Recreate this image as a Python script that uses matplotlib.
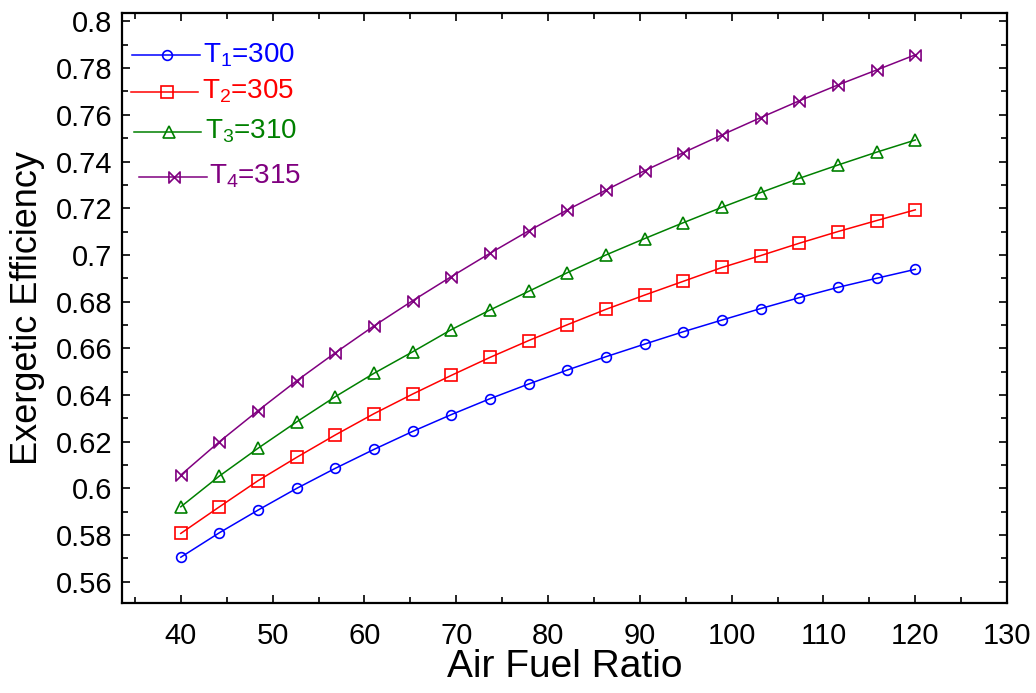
import numpy as np
import matplotlib.pyplot as plt
from matplotlib.path import Path
from matplotlib.ticker import MultipleLocator

plt.rcParams['font.family'] = ['Liberation Sans', 'DejaVu Sans']

# air fuel ratio values (20 points, 40 .. 120)
afr = [40.0, 44.21, 48.42, 52.63, 56.84, 61.05, 65.26, 69.47, 73.68, 77.89,
       82.11, 86.32, 90.53, 94.74, 98.95, 103.16, 107.37, 111.58, 115.79, 120.0]

# exergetic efficiency for each temperature
eff_300 = [0.5705, 0.5810, 0.5907, 0.6000, 0.6086, 0.6167, 0.6244, 0.6316, 0.6384, 0.6447,
           0.6507, 0.6564, 0.6618, 0.6671, 0.6721, 0.6770, 0.6817, 0.6861, 0.6900, 0.6938]
eff_305 = [0.5807, 0.5921, 0.6033, 0.6133, 0.6229, 0.6320, 0.6404, 0.6484, 0.6561, 0.6633,
           0.6701, 0.6767, 0.6828, 0.6887, 0.6946, 0.6997, 0.7050, 0.7100, 0.7147, 0.7193]
eff_310 = [0.5921, 0.6053, 0.6172, 0.6285, 0.6393, 0.6493, 0.6585, 0.6680, 0.6764, 0.6844,
           0.6924, 0.7000, 0.7070, 0.7138, 0.7204, 0.7267, 0.7328, 0.7385, 0.7440, 0.7492]
eff_315 = [0.6057, 0.6200, 0.6333, 0.6461, 0.6581, 0.6696, 0.6804, 0.6907, 0.7007, 0.7103,
           0.7193, 0.7278, 0.7361, 0.7438, 0.7514, 0.7588, 0.7660, 0.7728, 0.7792, 0.7857]

labels = ["$\\mathregular{T_1}$=300", "$\\mathregular{T_2}$=305",
          "$\\mathregular{T_3}$=310", "$\\mathregular{T_4}$=315"]

# bowtie marker with vertical sides
bowtie = Path([(-1, 1), (-1, -1), (1, 1), (1, -1), (-1, 1)],
              [Path.MOVETO, Path.LINETO, Path.LINETO, Path.LINETO, Path.CLOSEPOLY])

series = [
    (eff_300, "#0000ff", "o", 7.0),
    (eff_305, "#ff0000", "s", 8.5),
    (eff_310, "#008000", "^", 8.5),
    (eff_315, "#800080", bowtie, 8.0),
]

fig = plt.figure(figsize=(10.36, 6.93), dpi=100)
ax = fig.add_axes([0.1178, 0.1299, 0.8543, 0.8513])

for (y, c, m, ms) in series:
    ax.plot(afr, y, color=c, lw=1.1, marker=m, ms=ms, mfc="none", mec=c, mew=1.2)

# legend drawn by hand: line start, line end, marker x, y, text x (axes fraction)
leg_pos = [
    (0.0113, 0.0881, 0.0508, 0.9288, 0.0915),
    (0.0102, 0.0859, 0.0508, 0.8666, 0.0904),
    (0.0136, 0.0893, 0.0531, 0.7988, 0.0938),
    (0.0192, 0.0960, 0.0588, 0.7225, 0.0983),
]
for (y, c, m, ms), (x0, x1, xm, yl, xt), lab in zip(series, leg_pos, labels):
    ax.plot([x0, x1], [yl, yl], color=c, lw=1.1, transform=ax.transAxes, clip_on=False)
    ax.plot([xm], [yl], color=c, marker=m, ms=ms, mfc="none", mec=c, mew=1.2,
            transform=ax.transAxes, clip_on=False)
    ax.text(xt, yl, lab, color=c, fontsize=20, va="center", ha="left",
            transform=ax.transAxes)

ax.set_xlim(33.6, 130)
ax.set_ylim(0.5509, 0.8036)
ax.xaxis.set_minor_locator(MultipleLocator(5))
ax.yaxis.set_minor_locator(MultipleLocator(0.01))
ax.set_xticks(np.arange(40, 131, 10))
yt = np.arange(0.56, 0.8001, 0.02)
ax.set_yticks(yt)
ax.set_yticklabels(["%g" % round(v, 2) for v in yt])

ax.tick_params(which="both", direction="in", top=True, right=True, labelsize=21, width=1.2)
ax.tick_params(which="major", length=6)
ax.tick_params(which="minor", length=4)
ax.tick_params(axis="x", which="major", pad=14)
ax.tick_params(axis="y", which="major", pad=7)
for s in ax.spines.values():
    s.set_linewidth(1.6)

ax.set_xlabel("Air Fuel Ratio", fontsize=28, labelpad=-1)
ax.set_ylabel("Exergetic Efficiency", fontsize=26, labelpad=8)

fig.savefig("out.png", dpi=100)
